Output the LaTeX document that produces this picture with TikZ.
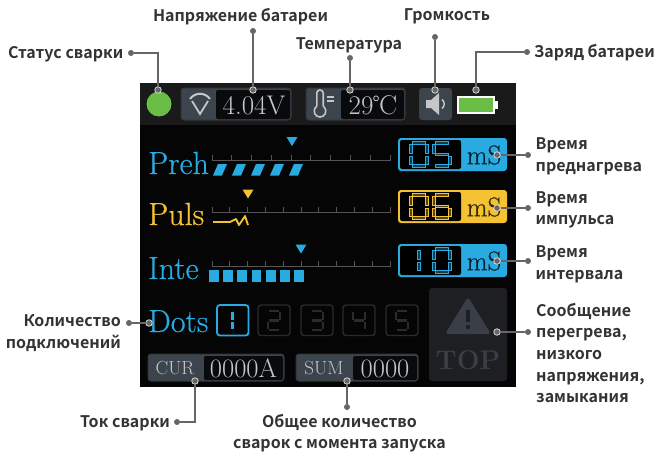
\documentclass[tikz,border=0pt]{standalone}
\usepackage{fontspec}
\setsansfont{Noto Sans CJK SC}[BoldFont={Noto Sans CJK SC Bold}]
\newfontfamily\heavyserif{Latin Modern Roman}[FakeBold=0.5]
\usetikzlibrary{shapes.geometric,calc}
\definecolor{scrbar}{HTML}{1A1A1B}
\definecolor{scrblack}{HTML}{050505}
\definecolor{cblue}{HTML}{29ABE2}
\definecolor{cyel}{HTML}{F5C332}
\definecolor{cgreen}{HTML}{6ABE45}
\definecolor{chip}{HTML}{3C444E}
\definecolor{chipline}{HTML}{33363B}
\definecolor{chiptxt}{HTML}{C4C6C8}
\definecolor{rule}{HTML}{555555}
\definecolor{conn}{HTML}{666666}
\definecolor{dim}{HTML}{2A2B2D}
\definecolor{topbox}{HTML}{1E1F22}
\definecolor{topgr}{HTML}{3A3F47}
\definecolor{lbl}{HTML}{333333}
\tikzset{
 lab/.style={font=\sffamily\bfseries\fontsize{16}{21.6}\selectfont,text=lbl,inner sep=0pt,align=left},
 labc/.style={lab,align=center},
 labr/.style={lab,align=right},
 endpt/.style={circle,fill=conn,draw=none,minimum size=6pt,inner sep=0pt},
 tippt/.style={circle,fill=conn,draw=white!85!black,line width=0.8pt,minimum size=6.5pt,inner sep=0pt},
 wire/.style={draw=conn,line width=1.3pt},
 bigt/.style={font=\heavyserif\fontsize{32}{34}\selectfont,inner sep=0pt,anchor=base west},
 chiptext/.style={font=\fontsize{27}{29}\selectfont,text=chiptxt,inner sep=0pt},
 chipshort/.style={font=\fontsize{19}{21}\selectfont,text=chiptxt,inner sep=0pt},
 chipbig/.style={font=\fontsize{26.5}{28}\selectfont,text=chiptxt,inner sep=0pt},
 msx/.style={font=\heavyserif\fontsize{27}{29}\selectfont,inner sep=0pt},
 chipbox/.style={fill=chip,draw=chipline,line width=1pt,rounded corners=3pt},
 darkin/.style={fill=black!85!chip,rounded corners=2pt},
}
\newcommand{\segA}{(0,0)--(1,0)}
\newcommand{\segB}{(1,0)--(1,1)}
\newcommand{\segC}{(1,1)--(1,2)}
\newcommand{\segD}{(0,2)--(1,2)}
\newcommand{\segE}{(0,1)--(0,2)}
\newcommand{\segF}{(0,0)--(0,1)}
\newcommand{\segG}{(0,1)--(1,1)}
\newcommand{\sevenhollow}[6]{%
 \begin{scope}[shift={(#1,#2)},x=#3pt,y=-#4pt,line cap=butt]
 \foreach \s in {#5}{\draw[#6,line width=3.8pt,shorten <=1pt,shorten >=1pt] \csname seg\s\endcsname;}
 \foreach \s in {#5}{\draw[#6!35!black,line width=1.4pt,shorten <=2pt,shorten >=2pt] \csname seg\s\endcsname;}
 \end{scope}}
\newcommand{\sevensolid}[6]{%
 \begin{scope}[shift={(#1,#2)},x=#3pt,y=-#4pt]
 \foreach \s in {#5}{\draw[#6,line width=2.6pt,shorten <=1pt,shorten >=1pt] \csname seg\s\endcsname;}
 \end{scope}}
\newcommand{\rulerat}[2]{% y, intervals
 \draw[rule,line width=1pt] (212,#1-5)--(212,#1)--(390,#1)--(390,#1-5);
 \foreach \k in {1,...,#2}{\draw[rule,line width=1pt] ({212+\k*178/#2},#1-5)--({212+\k*178/#2},#1);}}
\begin{document}
\begin{tikzpicture}[x=1pt,y=-1pt]
\useasboundingbox (0,0) rectangle (658,452);
\fill[white] (0,0) rectangle (658,452);
% screen
\fill[scrblack] (140,83) rectangle (516,387);
\fill[scrbar] (140,83) rectangle (516,125);
% status lamp
\node[circle,fill=cgreen,minimum size=25pt,inner sep=0pt,draw=none] (lamp) at (159,104) {};
% voltage chip
\draw[chipbox] (181,88) rectangle (291,120);
\fill[darkin] (216,90) rectangle (290,119);
\node[chiptext] (volt) at (254,105) {4.04V};
\draw[chiptxt,line width=2pt] (190,99) .. controls (195,92) and (205,92) .. (210,99);
\draw[chiptxt,line width=1.8pt] (192,101)--(200,114)--(208,101);
% temperature chip
\draw[chipbox] (306,88) rectangle (405,120);
\fill[darkin] (341,90) rectangle (404,119);
\node[chiptext] (temp) at (373,105) {29℃};
\draw[chiptxt,line width=1.6pt] (316.8,106)--(316.8,93) .. controls (316.8,89) and (323.2,89) .. (323.2,93)--(323.2,106);
\draw[chiptxt,line width=1.6pt] (316.8,106) .. controls (311,112) and (316,117) .. (320,117) .. controls (324,117) and (329,112) .. (323.2,106);
\draw[chiptxt,line width=1.3pt] (327,97)--(334,97) (327,101)--(334,101);
% speaker chip
\fill[chip,rounded corners=3pt] (419,88) rectangle (452,120);
\fill[chiptxt] (426,100)--(431,100)--(439,93)--(439,115)--(431,108)--(426,108)--cycle;
\draw[chiptxt,line width=1.5pt] (442,99.5) .. controls (445,102) and (445,106) .. (442,108.5);
% battery
\draw[white,line width=1.8pt,fill=cgreen] (458,97) rectangle (494,113);
\fill[white] (495,101) rectangle (497.5,109);
% PREH row
\node[bigt,text=cblue] (preh) at (148,174) {Preh};
\rulerat{160}{9}
\fill[cblue] (292,146)--(286.5,137)--(297.5,137)--cycle;
\foreach \k in {0,...,4}{\fill[cblue] ({213+\k*19},175.5)--({218+\k*19},164)--({227+\k*19},164)--({222+\k*19},175.5)--cycle;}
\fill[cblue,rounded corners=3pt] (398,138) rectangle (507,171);
\fill[black,rounded corners=2pt] (400,140) rectangle (461,169);
\node[msx,text=black!80!cblue] (ms1) at (484,155) {mS};
\sevenhollow{411}{143}{16}{11.5}{A,B,C,D,E,F}{cblue}
\sevenhollow{434}{143}{16}{11.5}{A,F,G,C,D}{cblue}
% PULS row
\node[bigt,text=cyel] (puls) at (148,225) {Puls};
\rulerat{212}{10}
\fill[cyel] (248,198.5)--(242.5,189.5)--(253.5,189.5)--cycle;
\draw[cyel,line width=1.8pt,line join=round] (213,222)--(230,222)--(236,219)--(239,225)--(245,216)--(248,225);
\fill[cyel,rounded corners=3pt] (398,190) rectangle (507,223);
\fill[black,rounded corners=2pt] (400,192) rectangle (461,221);
\node[msx,text=black!80!cyel] (ms2) at (484,207) {mS};
\sevenhollow{411}{195}{16}{11.5}{A,B,C,D,E,F}{cyel}
\sevenhollow{434}{195}{16}{11.5}{A,F,G,C,D,E}{cyel}
% INTE row
\node[bigt,text=cblue] (inte) at (148,279) {Inte};
\rulerat{266}{10}
\fill[cblue] (301,253.5)--(295.5,244.5)--(306.5,244.5)--cycle;
\foreach \k in {0,...,6}{\fill[cblue] ({209+\k*14.2},270) rectangle ++(9.7,11.7);}
\fill[cblue,rounded corners=3pt] (398,244) rectangle (507,277);
\fill[black,rounded corners=2pt] (400,246) rectangle (461,275);
\node[msx,text=black!80!cblue] (ms3) at (484,261) {mS};
\sevenhollow{403}{249}{16}{11.5}{B,C}{cblue}
\sevenhollow{434}{249}{16}{11.5}{A,B,C,D,E,F}{cblue}
% DOTS row
\node[bigt,text=cblue] (dots) at (148,332) {Dots};
\draw[cblue,line width=1.8pt,rounded corners=3pt] (217,305) rectangle (248.5,335.5);
\sevensolid{226}{311}{6.5}{9.5}{B,C}{cblue}
\foreach \bx/\sg in {258/{A,B,G,E,D},301/{A,B,G,C,D},343/{F,G,B,C},386/{A,F,G,C,D}}{
 \draw[dim,line width=1.4pt,rounded corners=3pt] (\bx,305) rectangle (\bx+32,335.5);
 \pgfmathsetmacro{\dx}{\bx+10}
 \edef\doseg{\noexpand\sevensolid{\dx}{311}{12}{9.5}{\sg}{dim}}\doseg
}
% current
\draw[chipbox] (148,354) rectangle (284,381);
\fill[darkin] (204,356) rectangle (283,380);
\node[chipshort] (cur) at (175,368.5) {CUR};
\node[chipbig] (curv) at (243.5,368.5) {0000A};
% sum
\draw[chipbox] (296,354) rectangle (418,381);
\fill[darkin] (353,356) rectangle (417,380);
\node[chipshort] (sum) at (324,368.5) {SUM};
\node[chipbig] (sumv) at (385,368.5) {0000};
% warning panel
\fill[topbox,rounded corners=3pt] (429,288) rectangle (507,381);
\fill[topgr,rounded corners=3pt] (468,297)--(491,334)--(445,334)--cycle;
\fill[topbox] (466,310) rectangle (470,322);
\fill[topbox] (468,327) circle (2.2);
\node[font=\bfseries\fontsize{27}{29}\selectfont,text=topgr,inner sep=0pt] (topw) at (468,360) {TOP};
% labels
\node[lab,anchor=west] (l1) at (8,54) {Статус сварки};
\node[lab,anchor=center] (l2) at (240.5,17) {Напряжение батареи};
\node[lab,anchor=center] (l3) at (349,45.5) {Температура};
\node[lab,anchor=center] (l4) at (447,16) {Громкость};
\node[lab,anchor=west] (l5) at (534,53) {Заряд батареи};
\node[lab,anchor=west] (l6) at (535.5,156) {Время\\преднагрева};
\node[lab,anchor=west] (l7) at (535.5,210) {Время\\импульса};
\node[lab,anchor=west] (l8) at (535.5,264) {Время\\интервала};
\node[lab,anchor=west] (l9) at (536,353) {Сообщение\\перегрева,\\низкого\\напряжения,\\замыкания};
\node[labr,anchor=east] (l10) at (121,333) {Количество\\подключений};
\node[lab,anchor=center] (l11) at (125,423) {Ток сварки};
\node[labc,anchor=center] (l12) at (339.5,433) {Общее количество\\сварок с момента запуска};
% connectors
\node[tippt] (t1) at (158,90) {};
\node[tippt] (t2) at (253,90) {};
\node[tippt] (t3) at (350,90) {};
\node[tippt] (t4) at (435,90) {};
\node[tippt] (t5) at (476,90) {};
\node[tippt] (t6) at (497,155) {};
\node[tippt] (t7) at (497,208) {};
\node[tippt] (t8) at (497,261) {};
\node[tippt] (t9) at (497,332) {};
\node[tippt] (t10) at (149,323) {};
\node[tippt] (t11) at (195,381) {};
\node[tippt] (t12) at (347,381) {};
\node[endpt] (e1) at (131,53) {};
\node[endpt] (e2) at (253,31) {};
\node[endpt] (e3) at (350,58) {};
\node[endpt] (e4) at (435,37) {};
\node[endpt] (e5) at (527,52) {};
\node[endpt] (e6) at (528,155) {};
\node[endpt] (e7) at (528,208) {};
\node[endpt] (e8) at (528,261) {};
\node[endpt] (e9) at (528,332) {};
\node[endpt] (e10) at (129,323) {};
\node[endpt] (e11) at (177,422) {};
\node[endpt] (e12) at (347,407) {};
\draw[wire] (e1)-|(t1);
\draw[wire] (e2)--(t2);
\draw[wire] (e3)--(t3);
\draw[wire] (e4)--(t4);
\draw[wire] (e5)-|(t5);
\draw[wire] (e6)--(t6);
\draw[wire] (e7)--(t7);
\draw[wire] (e8)--(t8);
\draw[wire] (e9)--(t9);
\draw[wire] (e10)--(t10);
\draw[wire] (e11)-|(t11);
\draw[wire] (e12)--(t12);
\end{tikzpicture}
\end{document}
